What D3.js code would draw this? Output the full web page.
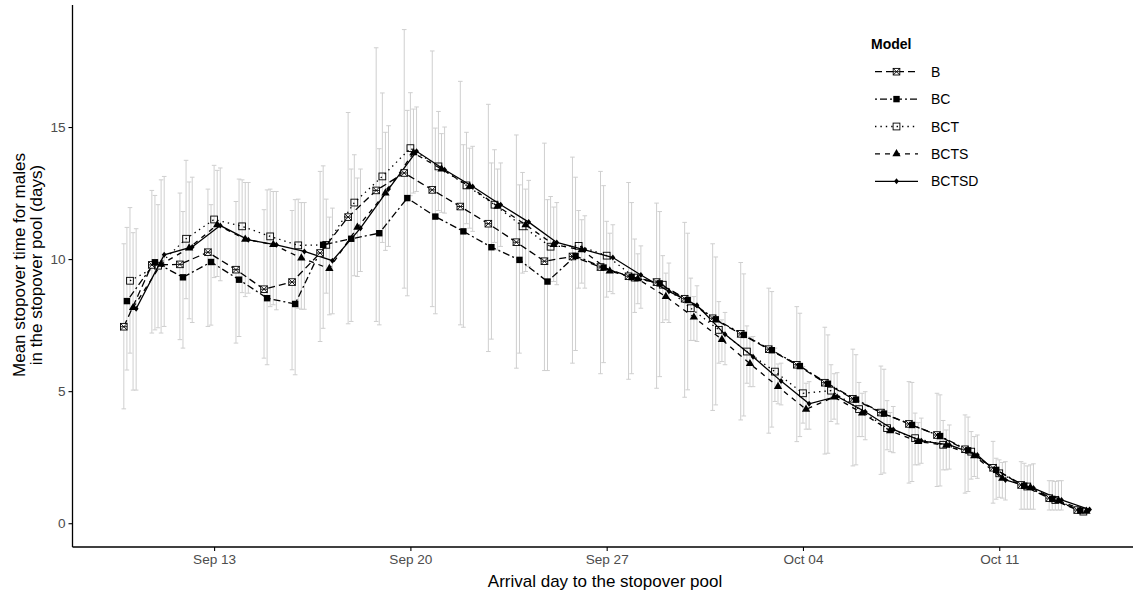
<!DOCTYPE html>
<html>
<head>
<meta charset="utf-8">
<script src="https://cdn.jsdelivr.net/npm/d3@7"></script>
<style>
  html, body { margin: 0; padding: 0; background: #fff; }
  svg { display: block; font-family: "Liberation Sans", Arial, sans-serif; }
</style>
</head>
<body>
<svg id="chart" width="1135" height="600"></svg>
<script>
// Arrival days (Sep 10 .. Oct 14), one entry per day
const startDay = Date.UTC(2021, 8, 10);
const dayMs = 864e5;
const nDays = 35;

const models = ["B", "BC", "BCT", "BCTS", "BCTSD"];

// Mean stopover time per model
const meanB = [7.44, 9.78, 9.8, 10.26, 9.6, 8.86, 9.13, 10.23, 11.59, 12.6, 13.26, 12.62, 11.99, 11.34, 10.64, 9.92, 10.1, 9.7, 9.35, 9.13, 8.5, 7.76, 7.17, 6.59, 6.0, 5.32, 4.71, 4.19, 3.76, 3.34, 2.8, 2.1, 1.45, 0.95, 0.5];
const meanBC = [8.41, 9.88, 9.31, 9.89, 9.22, 8.52, 8.3, 10.54, 10.77, 10.98, 12.31, 11.61, 11.05, 10.45, 9.97, 9.15, 10.12, 9.68, 9.32, 9.08, 8.45, 7.72, 7.13, 6.55, 5.95, 5.28, 4.68, 4.15, 3.72, 3.3, 2.76, 2.02, 1.42, 0.92, 0.48];
const meanBCT = [9.18, 9.75, 10.77, 11.5, 11.24, 10.86, 10.52, 10.54, 12.14, 13.13, 14.2, 13.51, 12.79, 12.06, 11.24, 10.47, 10.5, 10.13, 9.3, 9.03, 8.14, 7.32, 6.5, 5.74, 4.92, 5.02, 4.32, 3.6, 3.22, 2.97, 2.71, 1.89, 1.39, 0.88, 0.44];
const meanBCTS = [8.16, 9.8, 10.42, 11.3, 10.75, 10.55, 10.04, 9.64, 11.2, 12.5, 14.02, 13.41, 12.75, 12.0, 11.3, 10.55, 10.35, 9.55, 9.25, 8.58, 7.8, 6.95, 6.04, 5.17, 4.31, 4.78, 4.17, 3.5, 3.09, 2.95, 2.55, 1.7, 1.35, 0.86, 0.45];
const meanBCTSD = [8.12, 10.16, 10.46, 11.27, 10.73, 10.54, 10.29, 9.94, 11.17, 12.65, 14.08, 13.38, 12.75, 12.06, 11.4, 10.63, 10.35, 10.06, 9.4, 8.78, 8.25, 7.15, 6.3, 5.38, 4.52, 4.8, 4.22, 3.55, 3.12, 2.97, 2.58, 1.64, 1.33, 0.88, 0.52];

// Lower / upper interval bounds per model (no interval on the last day)
const lowB = [4.33, 7.2, 6.95, 7.45, 6.82, 6.25, 5.81, 6.88, 7.55, 7.64, 8.9, 8.2, 7.51, 6.5, 5.87, 5.78, 6.06, 5.66, 5.45, 5.11, 4.77, 4.27, 3.91, 3.41, 3.09, 2.62, 2.17, 1.85, 1.52, 1.39, 1.14, 0.76, 0.53, 0.5, null];
const highB = [10.58, 12.6, 12.5, 12.65, 12.18, 11.87, 11.84, 13.32, 15.55, 18.0, 18.69, 17.88, 16.73, 15.86, 14.7, 14.39, 13.86, 13.32, 12.9, 12.12, 11.39, 10.58, 9.87, 8.9, 8.2, 7.42, 6.59, 5.95, 5.36, 4.92, 4.1, 3.1, 2.33, 1.61, null];
const lowBC = [5.8, 7.32, 6.63, 7.5, 7.07, 6.0, 5.62, 7.38, 7.64, 7.51, 8.61, 7.93, 7.42, 6.97, 6.44, 5.78, 6.54, 6.08, 5.66, 5.55, 5.05, 4.48, 4.06, 3.64, 3.28, 2.65, 2.21, 1.9, 1.58, 1.41, 1.2, 0.91, 0.53, 0.5, null];
const highBC = [11.2, 12.41, 11.8, 12.06, 13.03, 12.62, 12.25, 13.53, 13.41, 14.18, 15.63, 14.96, 14.33, 13.64, 12.81, 12.25, 13.1, 12.78, 12.14, 11.8, 10.98, 10.08, 9.44, 8.77, 7.95, 7.13, 6.38, 5.83, 5.33, 4.86, 4.02, 2.46, 2.27, 1.61, null];
const lowBCT = [6.44, 7.4, 8.5, 9.3, 8.73, 8.2, 8.14, 8.71, 9.37, 10.63, 12.4, 11.84, 11.34, 10.63, 9.47, 9.15, 8.9, 8.56, 7.98, 7.6, 6.92, 6.06, 5.3, 4.61, 3.79, 3.85, 3.28, 2.78, 2.21, 2.02, 1.67, 0.98, 0.53, 0.5, null];
const highBCT = [11.95, 12.06, 13.74, 13.55, 13.0, 12.65, 12.27, 12.27, 13.95, 16.29, 16.3, 15.59, 14.8, 14.14, 13.28, 12.37, 11.84, 11.43, 10.76, 10.13, 9.28, 8.39, 7.47, 6.63, 5.93, 6.0, 5.33, 4.64, 4.17, 3.89, 3.47, 2.4, 2.17, 1.58, null];
const lowBCTS = [5.04, 7.2, 7.74, 9.34, 8.58, 8.27, 8.1, 7.89, 9.34, 10.33, 12.5, 11.77, 11.17, 10.35, 9.53, 9.15, 9.09, 8.77, 8.31, 7.7, 6.92, 6.12, 5.17, 4.52, 3.56, 3.94, 3.28, 2.71, 2.21, 2.02, 1.77, 0.95, 0.53, 0.5, null];
const highBCTS = [11.0, 13.0, 12.92, 13.36, 12.9, 12.56, 12.14, 11.59, 13.07, 14.8, 15.68, 14.75, 14.2, 13.41, 12.65, 11.97, 11.49, 10.98, 10.2, 9.47, 8.58, 7.7, 7.05, 6.03, 5.3, 5.66, 4.92, 4.19, 3.81, 3.53, 3.28, 2.3, 2.21, 1.61, null];
const lowBCTSD = [5.04, 7.45, 7.6, 9.18, 8.71, 8.08, 8.1, 7.93, 9.53, 10.48, 12.56, 11.74, 11.05, 10.48, 9.72, 9.03, 8.9, 8.69, 8.14, 7.6, 6.88, 6.0, 5.17, 4.48, 3.56, 3.76, 3.16, 2.67, 2.27, 2.05, 1.7, 0.88, 0.53, 0.5, null];
const highBCTSD = [11.15, 13.13, 13.1, 13.45, 12.9, 12.56, 12.14, 11.93, 13.41, 15.05, 15.76, 15.0, 14.27, 13.64, 12.98, 12.14, 11.64, 11.3, 10.5, 9.85, 8.99, 7.98, 7.07, 6.06, 5.36, 5.7, 4.98, 4.42, 3.98, 3.72, 3.34, 2.33, 2.25, 1.61, null];

const xTickDates = ["Sep 13", "Sep 20", "Sep 27", "Oct 04", "Oct 11"];
const yTicks = [0, 5, 10, 15];

const means = [meanB, meanBC, meanBCT, meanBCTS, meanBCTSD];
const lows = [lowB, lowBC, lowBCT, lowBCTS, lowBCTSD];
const highs = [highB, highBC, highBCT, highBCTS, highBCTSD];

// Line pattern and point shape per model
const dashes = ["7,4", "2,3,7,3", "1.4,4", "5,5", null];
const shapes = ["sqstar", "sqfill", "sqopen", "tri", "diamond"];

const dodge = 0.11; // days between neighbouring models

const svg = d3.select("#chart");
const sep13 = Date.UTC(2021, 8, 13);
const x = d3.scaleUtc()
  .domain([new Date(sep13 - 5.05 * dayMs), new Date(sep13 + 32.77 * dayMs)])
  .range([72.5, 1133]);
const y = d3.scaleLinear().domain([-0.9, 19.62]).range([547, 5]);

const xPos = (dayIdx, m) => x(new Date(startDay + (dayIdx + (m - 2) * dodge) * dayMs));

// Build records per model
const series = models.map((name, m) => ({
  name, m,
  points: d3.range(nDays).map(i => ({
    i, mean: means[m][i], lo: lows[m][i], hi: highs[m][i]
  }))
}));

// Error bars
const errG = svg.append("g").attr("stroke", "#cfcfcf").attr("stroke-width", 1).attr("fill", "none");
const cap = 2.3;
series.forEach(s => {
  s.points.filter(p => p.lo != null).forEach(p => {
    const cx = xPos(p.i, s.m);
    errG.append("line").attr("x1", cx).attr("x2", cx).attr("y1", y(p.lo)).attr("y2", y(p.hi));
    errG.append("line").attr("x1", cx - cap).attr("x2", cx + cap).attr("y1", y(p.lo)).attr("y2", y(p.lo));
    errG.append("line").attr("x1", cx - cap).attr("x2", cx + cap).attr("y1", y(p.hi)).attr("y2", y(p.hi));
  });
});

// Point glyphs
function drawShape(g, shape, cx, cy) {
  if (shape === "sqstar") {
    const h = 3.3;
    g.append("rect").attr("x", cx - h).attr("y", cy - h).attr("width", 2 * h).attr("height", 2 * h)
      .attr("fill", "#fff").attr("stroke", "#000").attr("stroke-width", 0.9);
    g.append("path").attr("d", `M${cx - h},${cy - h}L${cx + h},${cy + h}M${cx - h},${cy + h}L${cx + h},${cy - h}M${cx - h},${cy}L${cx + h},${cy}`)
      .attr("stroke", "#000").attr("stroke-width", 0.9);
  } else if (shape === "sqfill") {
    const h = 3.2;
    g.append("rect").attr("x", cx - h).attr("y", cy - h).attr("width", 2 * h).attr("height", 2 * h).attr("fill", "#000");
  } else if (shape === "sqopen") {
    const h = 3.4;
    g.append("rect").attr("x", cx - h).attr("y", cy - h).attr("width", 2 * h).attr("height", 2 * h)
      .attr("fill", "none").attr("stroke", "#000").attr("stroke-width", 0.9);
  } else if (shape === "tri") {
    g.append("path").attr("d", d3.symbol(d3.symbolTriangle, 30)()).attr("transform", `translate(${cx},${cy})`).attr("fill", "#000");
  } else {
    g.append("path").attr("d", `M${cx},${cy - 3}L${cx + 2.4},${cy}L${cx},${cy + 3}L${cx - 2.4},${cy}Z`).attr("fill", "#000");
  }
}

// Lines
const lineGen = d3.line().x(d => d.px).y(d => y(d.mean));
series.forEach(s => {
  const pts = s.points.map(p => ({ ...p, px: xPos(p.i, s.m) }));
  svg.append("path").datum(pts).attr("d", lineGen)
    .attr("fill", "none").attr("stroke", "#000").attr("stroke-width", 1.3)
    .attr("stroke-dasharray", dashes[s.m]);
});
// Points on top
const ptG = svg.append("g");
series.forEach(s => {
  s.points.forEach(p => drawShape(ptG, shapes[s.m], xPos(p.i, s.m), y(p.mean)));
});

// Axes
const tickDates = xTickDates.map(t => d3.utcParse("%b %d %Y")(t + " 2021"));
const xAxis = d3.axisBottom(x).tickValues(tickDates).tickFormat(d3.utcFormat("%b %d")).tickSizeOuter(0).tickSize(4).tickPadding(3);
const yAxis = d3.axisLeft(y).tickValues(yTicks).tickSizeOuter(0).tickSize(4).tickPadding(3);

const gx = svg.append("g").attr("transform", "translate(0,547)").call(xAxis);
const gy = svg.append("g").attr("transform", "translate(72.5,0)").call(yAxis);
[gx, gy].forEach(g => {
  g.select(".domain").attr("stroke", "#000").attr("stroke-width", 1.3);
  g.selectAll(".tick line").attr("stroke", "#000").attr("stroke-width", 1.1);
  g.selectAll(".tick text").attr("fill", "#4d4d4d").attr("font-size", 13.6).attr("font-family", "Liberation Sans, Arial, sans-serif");
});
gy.select(".domain").attr("d", "M0,5V547");
gx.select(".domain").attr("d", "M72.5,0H1133");

// Axis titles
svg.append("text").attr("x", 605).attr("y", 587).attr("text-anchor", "middle")
  .attr("font-size", 17).attr("fill", "#000").text("Arrival day to the stopover pool");
const yt = svg.append("text").attr("transform", "translate(0,265) rotate(-90)")
  .attr("text-anchor", "middle").attr("font-size", 17).attr("fill", "#000");
yt.append("tspan").attr("x", 0).attr("y", 25).text("Mean stopover time for males");
yt.append("tspan").attr("x", 0).attr("y", 42).text("in the stopover pool (days)");

// Legend
const lg = svg.append("g");
lg.append("text").attr("x", 871).attr("y", 49).attr("font-size", 14).attr("font-weight", "bold").attr("fill", "#000").text("Model");
models.forEach((name, m) => {
  const cy = 71.7 + m * 27.4;
  lg.append("line").attr("x1", 875).attr("x2", 918).attr("y1", cy).attr("y2", cy)
    .attr("stroke", "#000").attr("stroke-width", 1.3).attr("stroke-dasharray", dashes[m]);
  drawShape(lg, shapes[m], 896.5, cy);
  lg.append("text").attr("x", 931).attr("y", cy + 5).attr("font-size", 14).attr("fill", "#000").text(name);
});
</script>
</body>
</html>
